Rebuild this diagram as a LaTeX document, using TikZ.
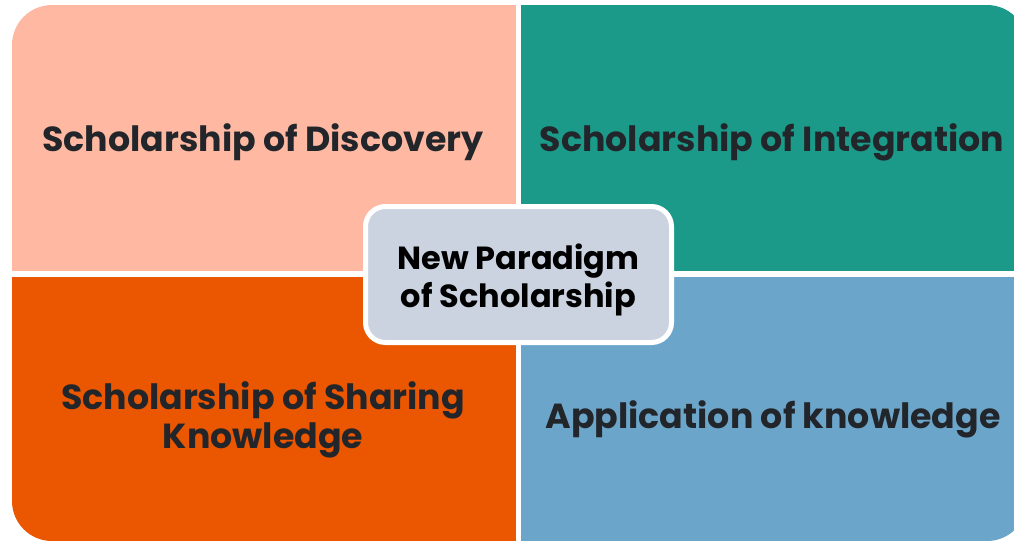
\documentclass[tikz,border=0pt]{standalone}
\usepackage{fontspec}
\setmainfont{Poppins}

\definecolor{discovery}{HTML}{FFB9A2}
\definecolor{integration}{HTML}{1C9A89}
\definecolor{sharing}{HTML}{EB5600}
\definecolor{application}{HTML}{6CA5CA}
\definecolor{paradigmfill}{HTML}{CBD3E0}
\definecolor{labeltext}{HTML}{22262B}

\begin{document}
\begin{tikzpicture}[x=1pt, y=-1pt,
    quadlabel/.style={font=\fontsize{34.8}{39}\selectfont\bfseries, text=labeltext, align=center},
    centerbox/.style={draw=white, line width=5pt, fill=paradigmfill, rounded corners=20pt,
      minimum width=306pt, minimum height=136pt},
    centerlabel/.style={font=\fontsize{32}{38}\selectfont\bfseries, text=black, align=center}]
  \useasboundingbox (0,0) rectangle (1014,542);
  \clip (0,0) rectangle (1014,542);

  % Draw the quadrants
  \begin{scope}
    \clip[rounded corners=40pt] (12,5) rectangle (1027,541);
    \fill[discovery] (12,5) rectangle (516,271);
    \fill[integration] (521,5) rectangle (1027,271);
    \fill[sharing] (12,277) rectangle (516,541);
    \fill[application] (521,277) rectangle (1027,541);
  \end{scope}

  % Quadrant labels
  \node[quadlabel] (discovery) at (263,142) {Scholarship of Discovery};
  \node[quadlabel] (integration) at (772,142) {Scholarship of Integration};
  \node[quadlabel] (sharing) at (263,420) {Scholarship of Sharing\\Knowledge};
  \node[quadlabel] (application) at (773,419) {Application of knowledge};

  % Centre box
  \node[centerbox] (paradigm) at (518.5,274.5) {};
  \node[centerlabel] (paradigmlabel) at ([yshift=-5pt]paradigm.center) {New Paradigm\\of Scholarship};
\end{tikzpicture}
\end{document}
